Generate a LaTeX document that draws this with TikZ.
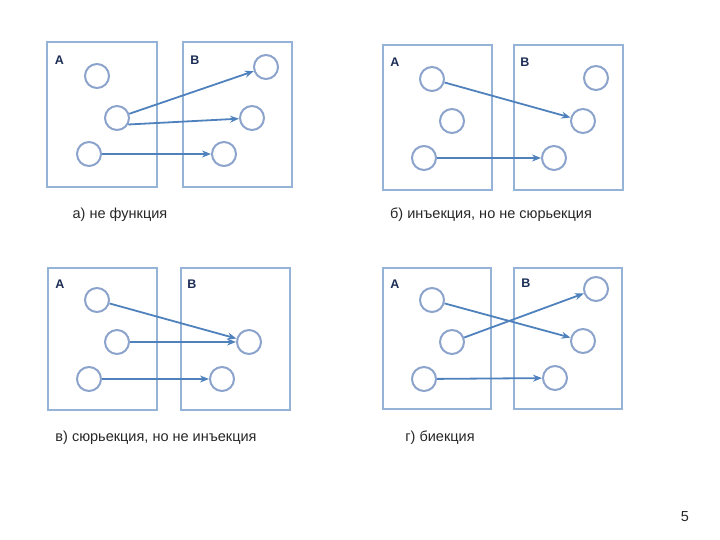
\documentclass[tikz,border=0pt]{standalone}
\usepackage{fontspec}
\setmainfont{Liberation Sans}
\usepackage{tikz}
\usetikzlibrary{arrows.meta}
\definecolor{boxblue}{RGB}{149,179,215}
\definecolor{dotblue}{RGB}{140,164,204}
\definecolor{arrblue}{RGB}{79,129,189}
\definecolor{navy}{RGB}{28,45,85}

\begin{document}
\begin{tikzpicture}[x=1pt,y=-1pt,
  elem/.style={draw=dotblue, circle, line width=2pt, minimum size=24pt, inner sep=0pt},
  setbox/.style={draw=boxblue, line width=2.2pt},
  setname/.style={font=\fontsize{12.5}{14}\selectfont\bfseries, text=navy},
  caption/.style={font=\fontsize{14.5}{17}\selectfont, text=black!85},
  map/.style={draw=arrblue, line width=1.8pt, -{Stealth[length=9pt,width=7pt]}}]
\useasboundingbox (0,0) rectangle (720,540);

% а) не функция
\draw[setbox] (47,42) rectangle (157,187);
\draw[setbox] (183,42) rectangle (292,187);
\node[setname] (aA) at (59.5,60) {A};
\node[setname] (aB) at (195,60) {B};
\node[elem] (a1) at (97,76) {};
\node[elem] (a2) at (117,118) {};
\node[elem] (a3) at (89,154) {};
\node[elem] (b1) at (266,67) {};
\node[elem] (b2) at (252,118) {};
\node[elem] (b3) at (224,154) {};
\draw[map] (a2) -- (b1);
\draw[map] (a2.-30) -- (b2);
\draw[map] (a3) -- (b3);
\node[caption] (capa) at (120,215) {а) не функция};

% б) инъекция, но не сюрьекция
\draw[setbox] (383,45) rectangle (492,190);
\draw[setbox] (514,45) rectangle (623,190);
\node[setname] (bA) at (395,62) {A};
\node[setname] (bB) at (525,62) {B};
\node[elem] (c1) at (432,79) {};
\node[elem] (c2) at (452,121) {};
\node[elem] (c3) at (424,158) {};
\node[elem] (d1) at (596,78) {};
\node[elem] (d2) at (583,121) {};
\node[elem] (d3) at (554,158) {};
\draw[map] (c1) -- (d2);
\draw[map] (c3) -- (d3);
\node[caption] (capb) at (491,215) {б) инъекция, но не сюрьекция};

% в) сюрьекция, но не инъекция
\draw[setbox] (48,268) rectangle (157,410);
\draw[setbox] (181,268) rectangle (290,410);
\node[setname] (cA) at (60,284) {A};
\node[setname] (cB) at (192,284) {B};
\node[elem] (e1) at (97,300) {};
\node[elem] (e2) at (117,342) {};
\node[elem] (e3) at (89,379) {};
\node[elem] (f1) at (249,342) {};
\node[elem] (f2) at (222,379) {};
\draw[map] (e1) -- (f1);
\draw[map] (e2) -- (f1);
\draw[map] (e3) -- (f2);
\node[caption] (capc) at (156,438) {в) сюрьекция, но не инъекция};

% г) биекция
\draw[setbox] (383,268) rectangle (491,409);
\draw[setbox] (514,268) rectangle (622,409);
\node[setname] (dA) at (395,284) {A};
\node[setname] (dB) at (526,283) {B};
\node[elem] (g1) at (432,300) {};
\node[elem] (g2) at (452,342) {};
\node[elem] (g3) at (424,379) {};
\node[elem] (h1) at (596,289) {};
\node[elem] (h2) at (583,341) {};
\node[elem] (h3) at (555,378) {};
\draw[map] (g1) -- (h2);
\draw[map] (g2) -- (h1);
\draw[map] (g3) -- (h3);
\node[caption] (capd) at (440,438) {г) биекция};

\node[caption] (page) at (685,517) {5};
\end{tikzpicture}
\end{document}
